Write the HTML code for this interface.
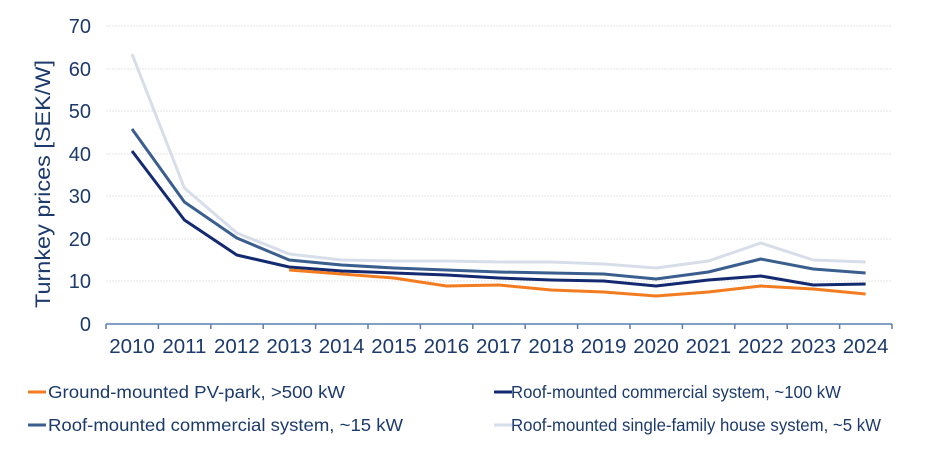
<!DOCTYPE html>
<html><head><style>
body{margin:0;background:#fff;}
svg text{font-family:"Liberation Sans",Arial,sans-serif;fill:#1c3a6b;}
</style></head><body>
<svg width="940" height="445" viewBox="0 0 940 445" xmlns="http://www.w3.org/2000/svg">
<g stroke="#e6e6e6" stroke-width="1" stroke-dasharray="2,1">
<line x1="106" x2="892" y1="26" y2="26"/>
<line x1="106" x2="892" y1="69" y2="69"/>
<line x1="106" x2="892" y1="111" y2="111"/>
<line x1="106" x2="892" y1="154" y2="154"/>
<line x1="106" x2="892" y1="196" y2="196"/>
<line x1="106" x2="892" y1="239" y2="239"/>
<line x1="106" x2="892" y1="281" y2="281"/>
</g>
<g stroke="#5b7fb0" stroke-width="1.5">
<line x1="106" x2="892" y1="324" y2="324"/>
<path d="M106,324v5M158.4,324v5M210.8,324v5M263.2,324v5M315.6,324v5M368,324v5M420.4,324v5M472.8,324v5M525.2,324v5M577.6,324v5M630,324v5M682.4,324v5M734.8,324v5M787.2,324v5M839.6,324v5M892,324v5"/>
</g>
<g font-size="20" text-anchor="end">
<text x="91" y="33">70</text><text x="91" y="76">60</text><text x="91" y="118">50</text><text x="91" y="161">40</text><text x="91" y="203">30</text><text x="91" y="246">20</text><text x="91" y="288">10</text><text x="91" y="331">0</text>
</g>
<text transform="translate(50,184) rotate(-90)" font-size="21" text-anchor="middle" textLength="248" lengthAdjust="spacingAndGlyphs">Turnkey prices [SEK/W]</text>
<g font-size="20.5" text-anchor="middle">
<text x="132" y="353">2010</text><text x="184.4" y="353">2011</text><text x="236.8" y="353">2012</text><text x="289.2" y="353">2013</text><text x="341.6" y="353">2014</text><text x="394" y="353">2015</text><text x="446.4" y="353">2016</text><text x="498.8" y="353">2017</text><text x="551.2" y="353">2018</text><text x="603.6" y="353">2019</text><text x="656" y="353">2020</text><text x="708.4" y="353">2021</text><text x="760.8" y="353">2022</text><text x="813.2" y="353">2023</text><text x="865.6" y="353">2024</text>
</g>
<g fill="none" stroke-width="3" stroke-linejoin="round">
<polyline stroke="#d7dee9" points="132,54 184.4,188 236.8,233 289.2,254 341.6,260 394,261 446.4,261 498.8,262 551.2,262 603.6,264 656,268 708.4,261 760.8,243 813.2,260 865.6,262"/>
<polyline stroke="#3a5e8e" points="132,129 184.4,202 236.8,238 289.2,260 341.6,265 394,268 446.4,270 498.8,272 551.2,273 603.6,274 656,279 708.4,272 760.8,259 813.2,269 865.6,273"/>
<polyline stroke="#132a70" points="132,151 184.4,220 236.8,255 289.2,267 341.6,271 394,273 446.4,275 498.8,278 551.2,280 603.6,281 656,286 708.4,280 760.8,276 813.2,285 865.6,284"/>
<polyline stroke="#f47c20" points="289.2,270 341.6,274 394,278 446.4,286 498.8,285 551.2,290 603.6,292 656,296 708.4,292 760.8,286 813.2,289 865.6,294"/>
</g>
<g stroke-width="3">
<line x1="28" x2="46" y1="392" y2="392" stroke="#f47c20"/>
<line x1="494" x2="512" y1="392" y2="392" stroke="#132a70"/>
<line x1="28" x2="46" y1="425" y2="425" stroke="#3a5e8e"/>
<line x1="494" x2="512" y1="425" y2="425" stroke="#d7dee9"/>
</g>
<g font-size="17.5">
<text x="48" y="398" textLength="297" lengthAdjust="spacingAndGlyphs">Ground-mounted PV-park, &gt;500 kW</text>
<text x="511" y="398" textLength="330" lengthAdjust="spacingAndGlyphs">Roof-mounted commercial system, ~100 kW</text>
<text x="48" y="431" textLength="355" lengthAdjust="spacingAndGlyphs">Roof-mounted commercial system, ~15 kW</text>
<text x="511" y="431" textLength="370" lengthAdjust="spacingAndGlyphs">Roof-mounted single-family house system, ~5 kW</text>
</g>
</svg>
</body></html>
